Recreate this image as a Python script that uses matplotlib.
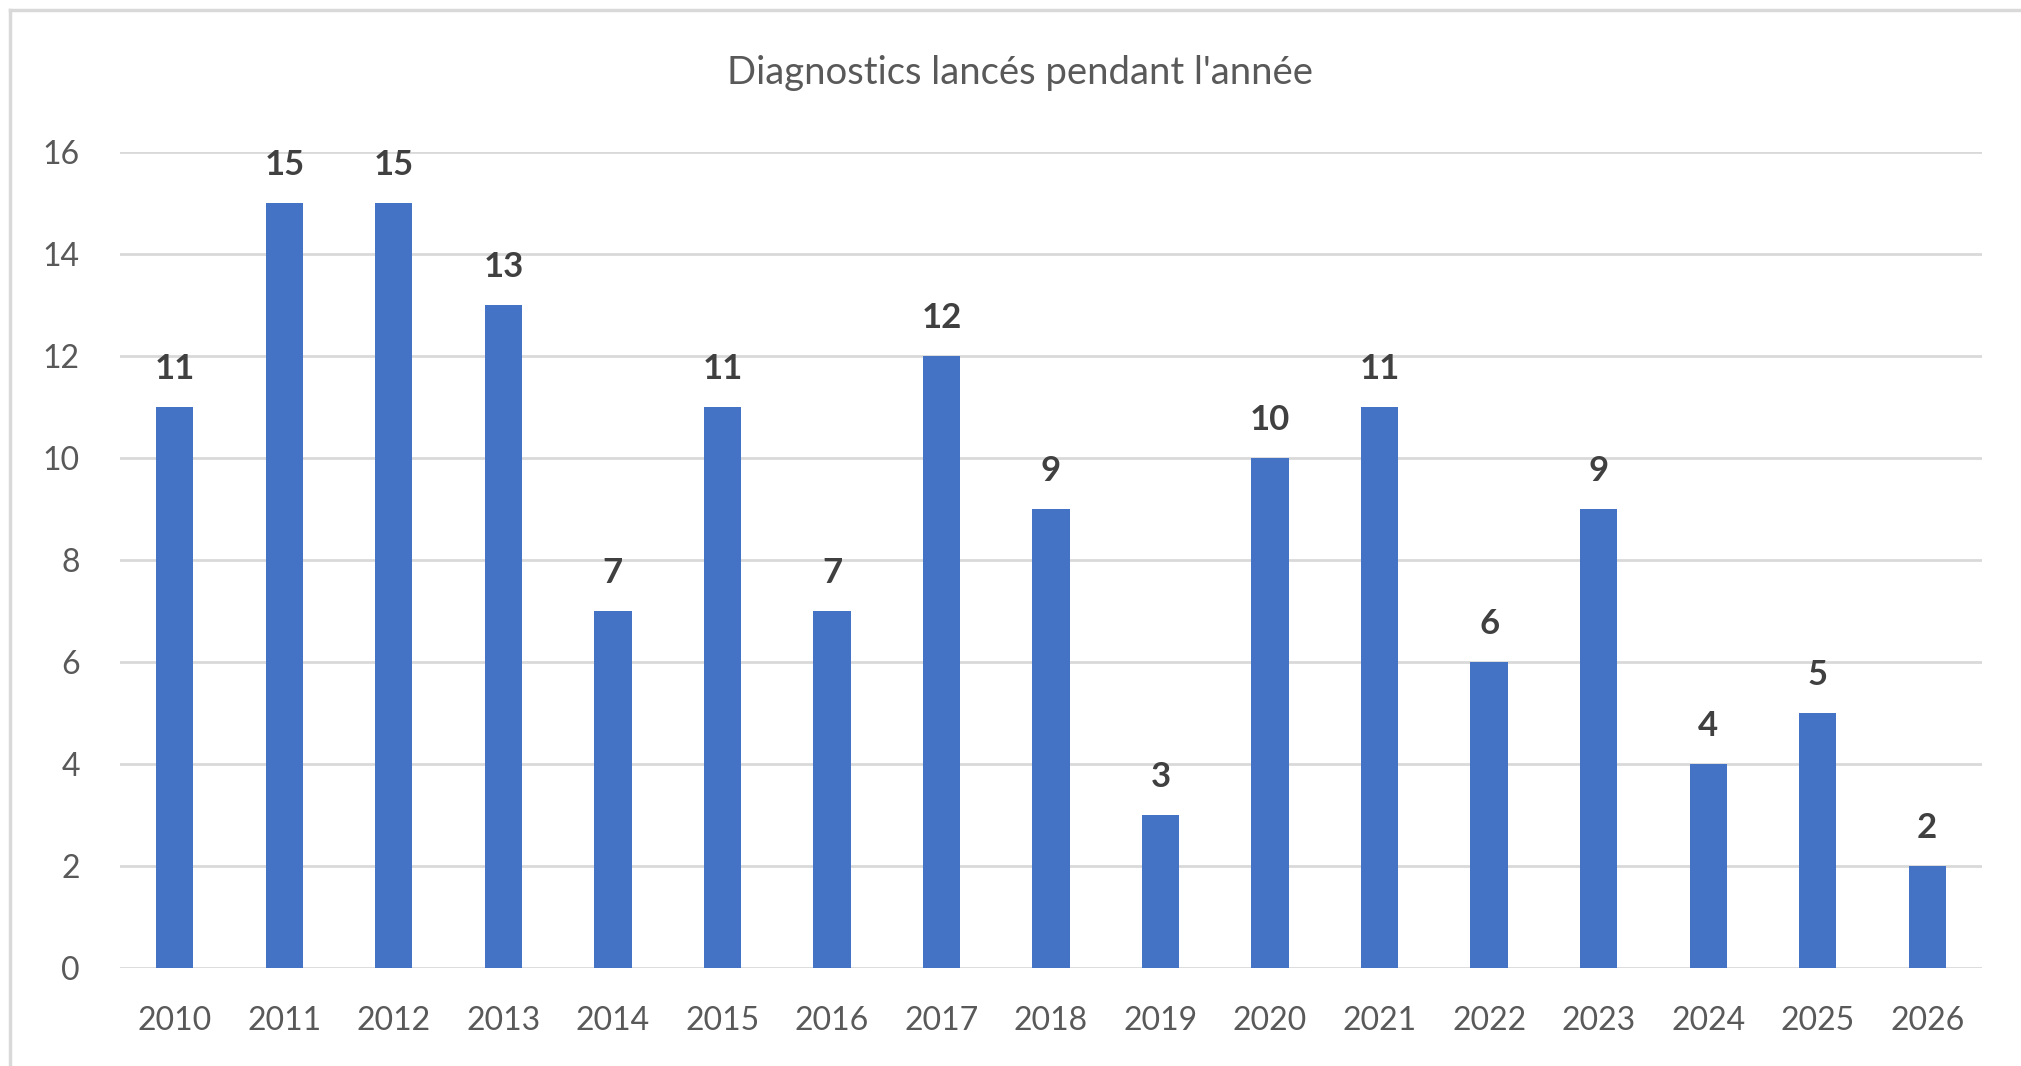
import matplotlib
matplotlib.use("Agg")
import matplotlib.pyplot as plt
from matplotlib.lines import Line2D

years = ["2010", "2011", "2012", "2013", "2014", "2015", "2016", "2017", "2018",
         "2019", "2020", "2021", "2022", "2023", "2024", "2025", "2026"]
values = [11, 15, 15, 13, 7, 11, 7, 12, 9, 3, 10, 11, 6, 9, 4, 5, 2]
yticks = [0, 2, 4, 6, 8, 10, 12, 14, 16]
title = "Diagnostics lancés pendant l'année"

W, H = 2021, 1066
fig = plt.figure(figsize=(W / 100, H / 100), dpi=100)
plt.rcParams['font.family'] = ['Lato', 'DejaVu Sans']

left, right = 120 / W, 1982 / W
bottom, top = 1 - 968 / H, 1 - 152 / H
ax = fig.add_axes([left, bottom, right - left, top - bottom])

x = list(range(len(years)))
bars = ax.bar(x, values, width=0.34, color="#4472C4", zorder=3)
ax.set_xlim(-0.5, len(years) - 0.5)
ax.set_ylim(0, 16)
ax.set_yticks(yticks)
ax.set_xticks(x)
ax.set_xticklabels(years)
ax.grid(axis="y", color="#D9D9D9", linewidth=2, zorder=0)
for s in ax.spines.values():
    s.set_visible(False)
ax.tick_params(axis="both", length=0, colors="#595959", labelsize=23)
ax.tick_params(axis="y", pad=29)
ax.tick_params(axis="x", pad=27)

for xi, v in zip(x, values):
    ax.annotate(str(v), (xi, v), xytext=(0, 16), textcoords="offset points",
                ha="center", va="bottom", fontsize=25, fontweight="bold",
                color="#404040")

fig.text(1020 / W, 1 - 73 / H, title, ha="center", va="center",
         fontsize=27.5, color="#595959")

# chart frame
fig.add_artist(Line2D([10 / W, 1], [1 - 10 / H, 1 - 10 / H], transform=fig.transFigure,
                      color="#D9D9D9", linewidth=2.5))
fig.add_artist(Line2D([10 / W, 10 / W], [0, 1 - 10 / H], transform=fig.transFigure,
                      color="#D9D9D9", linewidth=2.5))

fig.savefig("out.png", dpi=100, facecolor="white")
